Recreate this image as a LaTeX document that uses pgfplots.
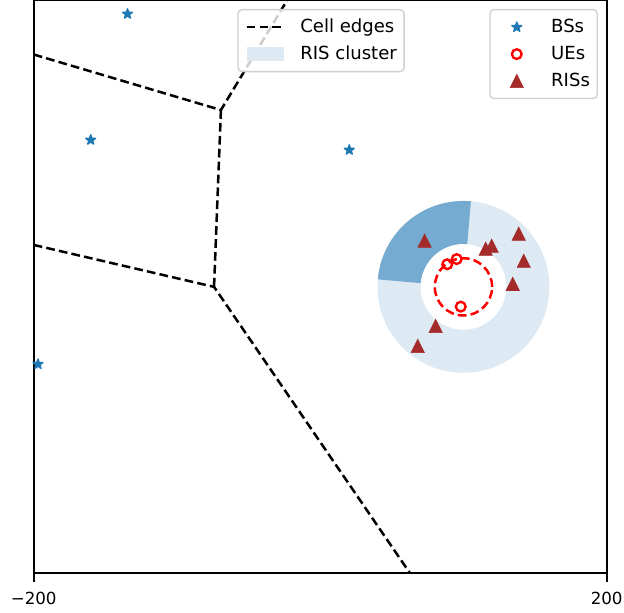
\documentclass[border=0pt]{standalone}
\usepackage{fontspec}
\setmainfont{DejaVu Sans}
\usepackage{pgfplots}
\pgfplotsset{compat=1.18}
\definecolor{tabblue}{RGB}{31,119,180}
\definecolor{rislight}{RGB}{221,233,243}
\definecolor{risdark}{RGB}{117,171,208}
\definecolor{risbrown}{RGB}{165,42,42}
\definecolor{legframe}{RGB}{208,208,208}

\pgfdeclareplotmark{mstar}{%
  \pgfpathmoveto{\pgfpointpolar{90}{\pgfplotmarksize}}%
  \pgfpathlineto{\pgfpointpolar{126}{0.40\pgfplotmarksize}}%
  \pgfpathlineto{\pgfpointpolar{162}{\pgfplotmarksize}}%
  \pgfpathlineto{\pgfpointpolar{198}{0.40\pgfplotmarksize}}%
  \pgfpathlineto{\pgfpointpolar{234}{\pgfplotmarksize}}%
  \pgfpathlineto{\pgfpointpolar{270}{0.40\pgfplotmarksize}}%
  \pgfpathlineto{\pgfpointpolar{306}{\pgfplotmarksize}}%
  \pgfpathlineto{\pgfpointpolar{342}{0.40\pgfplotmarksize}}%
  \pgfpathlineto{\pgfpointpolar{18}{\pgfplotmarksize}}%
  \pgfpathlineto{\pgfpointpolar{54}{0.40\pgfplotmarksize}}%
  \pgfpathclose
  \pgfusepathqfillstroke}
\pgfdeclareplotmark{mtri}{%
  \pgfpathmoveto{\pgfqpoint{0pt}{\pgfplotmarksize}}%
  \pgfpathlineto{\pgfqpoint{-\pgfplotmarksize}{-\pgfplotmarksize}}%
  \pgfpathlineto{\pgfqpoint{\pgfplotmarksize}{-\pgfplotmarksize}}%
  \pgfpathclose
  \pgfusepathqfillstroke}

\pgfplotsset{
  mylineleg/.style={legend image code/.code={\draw[sharp corners,fill opacity=1,draw opacity=1,##1] (0pt,0pt) -- (27pt,0pt);}},
  mymarkleg/.style={legend image code/.code={\path (0pt,0pt) (27pt,0pt);\draw[sharp corners,fill opacity=1,draw opacity=1,mark repeat=2,mark phase=2,##1] plot coordinates {(0pt,0pt) (13.5pt,0pt) (27pt,0pt)};}},
  myarealeg/.style={legend image code/.code={\fill[sharp corners,fill opacity=1,draw opacity=1,##1] (0pt,-5.3pt) rectangle (27pt,5.3pt);}},
  myleg/.style={legend cell align=left,
    legend style={draw=legframe, line width=1pt, rounded corners=3pt, fill=white,
      fill opacity=0.8, draw opacity=1, text opacity=1,
      font=\fontsize{13}{15}\selectfont,
      inner xsep=5.3pt, inner ysep=6.1pt, row sep=6.4pt,
      nodes={inner sep=0pt, text height=10.5pt, text depth=2.5pt, fill opacity=1},
      /tikz/every odd column/.append style={column sep=10.8pt}}},
  mybox/.style={scale only axis, width=412.6pt, height=412.4pt,
    xmin=-200, xmax=200, ymin=-200, ymax=200},
  bsstyle/.style={only marks, mark=mstar, mark size=3.7pt, color=tabblue, mark options={line width=1pt, line join=round, fill=tabblue, draw=tabblue}},
  uestyle/.style={only marks, mark=o, mark size=3.5pt, color=red, mark options={line width=1.7pt, draw=red, fill=none}},
  risstyle/.style={only marks, mark=mtri, mark size=4.8pt, color=risbrown, mark options={line width=0.4pt, fill=risbrown, draw=risbrown}},
  edgestyle/.style={black, line width=1.8pt, dash pattern=on 6.3pt off 3pt},
}

\begin{document}
\begin{tikzpicture}
\begin{axis}[mybox, myleg,
  xtick={-200,200}, xticklabels={−200,200}, ytick=\empty,
  xtick pos=lower, tick align=outside, major tick length=6.5pt,
  axis line style={line width=1.2pt},
  every tick/.style={black, line width=1.2pt},
  /pgf/number format/assume math mode=true,
  ticklabel style={font=\fontsize{12}{14}\selectfont},
  xticklabel style={yshift=-3.5pt},
  legend style={at={(0.9848,0.9852)}, anchor=north east},
]
\coordinate (bbsw) at (rel axis cs:0,0);
\coordinate (bbne) at (rel axis cs:1,1);

% legend entries
\addlegendimage{mymarkleg, bsstyle}
\addlegendentry{BSs}
\addlegendimage{mymarkleg, uestyle}
\addlegendentry{UEs}
\addlegendimage{mymarkleg, risstyle}
\addlegendentry{RISs}

% RIS cluster (annulus and active sector)
\fill[rislight, even odd rule] (axis cs:100,0) circle[radius=60] (axis cs:100,0) circle[radius=30];
\fill[risdark] (axis cs:105.23,59.77) arc[start angle=85, end angle=175, radius=60]
   -- (axis cs:70.11,2.61) arc[start angle=175, end angle=85, radius=30] -- cycle;

% cell edges
\addplot[forget plot, edgestyle] coordinates {(-200,162.3) (-69.3,123.5) (-23.2,200)};
\addplot[forget plot, edgestyle] coordinates {(-69.3,123.5) (-74.1,0)};
\addplot[forget plot, edgestyle] coordinates {(-200,29.3) (-74.1,0) (62.7,-200)};

% UE circle
\draw[red, line width=1.8pt, dash pattern=on 6.3pt off 3pt] (axis cs:100,0) circle[radius=20];

% RISs
\addplot[forget plot, risstyle]
  coordinates {(72.9,32.2) (115.5,26.6) (119.7,28.7) (138.6,37.1) (142.1,18.2) (134.4,2.1) (80.6,-27.3) (68.1,-41.3)};
% UEs
\addplot[forget plot, uestyle]
  coordinates {(88.7,15.8) (95.3,19.4) (98.1,-13.8)};
% BSs
\addplot[forget plot, bsstyle]
  coordinates {(-134.5,190.6) (-160.2,102.6) (20.3,95.6) (-197,-54)};
\end{axis}

\begin{axis}[mybox, myleg, hide axis,
  legend style={at={(0.3553,0.9852)}, anchor=north west},
]
\addlegendimage{mylineleg, edgestyle}
\addlegendentry{Cell edges}
\addlegendimage{myarealeg, fill=rislight, draw=none}
\addlegendentry{RIS cluster}
\end{axis}

\pgfresetboundingbox
\path[use as bounding box] ([xshift=-24.26pt,yshift=-28.58pt]bbsw) rectangle ([xshift=12.46pt,yshift=0.36pt]bbne);
\end{tikzpicture}
\end{document}
